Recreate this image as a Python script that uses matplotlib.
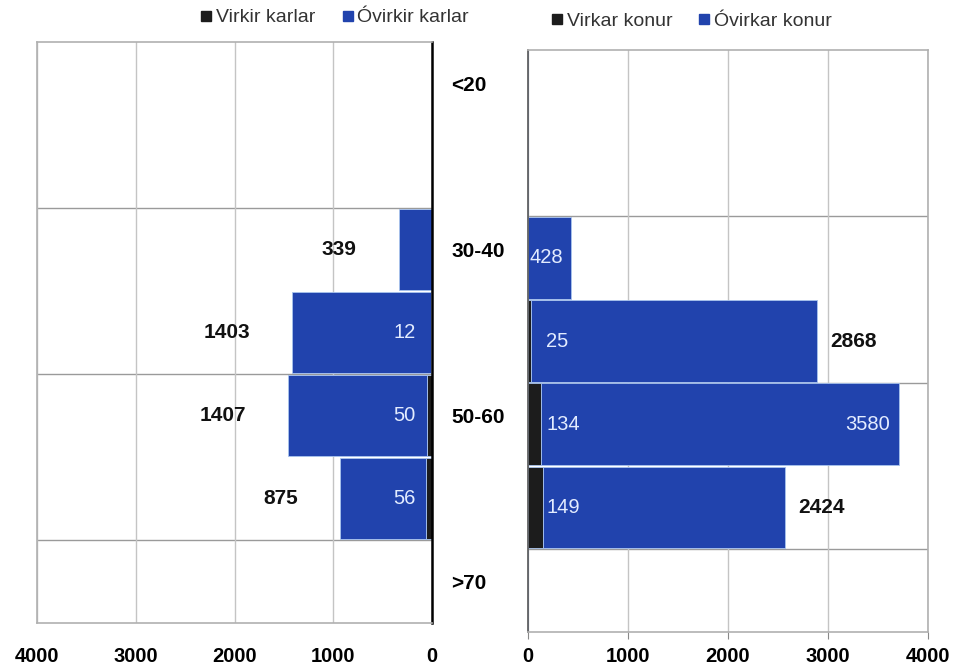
import matplotlib.pyplot as plt
from matplotlib.lines import Line2D

# age groups, top to bottom
categories = ['<20', '20-30', '30-40', '40-50', '50-60', '60-70', '>70']
shown_labels = ['<20', '', '30-40', '', '50-60', '', '>70']

karlar_virkir = [0, 0, 0, 12, 50, 56, 0]
karlar_ovirkir = [0, 0, 339, 1403, 1407, 875, 0]
konur_virkar = [0, 0, 0, 25, 134, 149, 0]
konur_ovirkar = [0, 0, 428, 2868, 3580, 2424, 0]

# where the óvirkar label for women goes
konur_label_pos = ['', '', 'start', 'out', 'in', 'out', '']

ticks = [0, 1000, 2000, 3000, 4000]

BLUE = '#2143ad'
BLACK = '#1c1c1c'
GRID = '#c4c4c4'
LIGHT = '#e3ecff'

plt.rcParams['font.family'] = ['Liberation Sans', 'DejaVu Sans']

fig = plt.figure(figsize=(9.55, 6.67), dpi=100)
ax1 = fig.add_axes([37 / 955, 1 - 623 / 667, 395 / 955, 581 / 667])
ax2 = fig.add_axes([528 / 955, 1 - 632 / 667, 400 / 955, 582 / 667])

y = list(range(len(categories)))


def style_axes(ax):
    ax.set_ylim(len(categories) - 0.5, -0.5)
    ax.set_xticks(ticks)
    ax.set_xlim(0, 4000)
    ax.grid(axis='x', color=GRID, lw=1)
    ax.set_axisbelow(True)
    for b in [1.5, 3.5, 5.5]:
        ax.axhline(b, color='#9a9a9a', lw=1, zorder=0.5)
    for s in ax.spines.values():
        s.set_color('#b0b0b0')
        s.set_linewidth(1.2)
    ax.tick_params(axis='x', labelsize=14.5, length=5, color='#888888', pad=6)
    for t in ax.get_xticklabels():
        t.set_fontweight('bold')


# left panel - karlar
ax1.barh(y, karlar_virkir, height=0.98, color=BLACK, edgecolor='#a9c4ee', lw=0.6)
ax1.barh(y, karlar_ovirkir, left=karlar_virkir, height=0.98, color=BLUE,
         edgecolor='#a9c4ee', lw=0.6)
style_axes(ax1)
ax1.set_xlim(4000, 0)
ax1.spines['right'].set_color('black')
ax1.spines['right'].set_linewidth(1.8)
ax1.tick_params(axis='x', length=0, pad=17)
ax1.yaxis.tick_right()
ax1.set_yticks(y)
ax1.set_yticklabels(shown_labels, fontsize=15, fontweight='bold', ha='left')
ax1.tick_params(axis='y', length=0, pad=14)

for i in y:
    tot = karlar_virkir[i] + karlar_ovirkir[i]
    if karlar_ovirkir[i]:
        ax1.annotate(str(karlar_ovirkir[i]), (tot, i), xytext=(-30, 0),
                     textcoords='offset points', ha='right', va='center',
                     fontsize=15, fontweight='bold', color='#111111')
    if karlar_virkir[i]:
        ax1.annotate(str(karlar_virkir[i]), (0, i), xytext=(-12, 0),
                     textcoords='offset points', ha='right', va='center',
                     fontsize=14.5, color=LIGHT)

# right panel - konur
ax2.barh(y, konur_virkar, height=0.98, color=BLACK, edgecolor='#a9c4ee', lw=0.6)
ax2.barh(y, konur_ovirkar, left=konur_virkar, height=0.98, color=BLUE,
         edgecolor='#a9c4ee', lw=0.6)
style_axes(ax2)
ax2.set_yticks([])
ax2.spines['left'].set_color('#555555')

for i in y:
    tot = konur_virkar[i] + konur_ovirkar[i]
    pos = konur_label_pos[i]
    if pos == 'out':
        ax2.annotate(str(konur_ovirkar[i]), (tot, i), xytext=(9, 0),
                     textcoords='offset points', ha='left', va='center',
                     fontsize=15, fontweight='bold', color='#111111')
    elif pos == 'in':
        ax2.annotate(str(konur_ovirkar[i]), (tot, i), xytext=(-7, 0),
                     textcoords='offset points', ha='right', va='center',
                     fontsize=14.5, color=LIGHT)
    elif pos == 'start':
        ax2.annotate(str(konur_ovirkar[i]), (0, i), xytext=(1, 0),
                     textcoords='offset points', ha='left', va='center',
                     fontsize=14.5, color=LIGHT)
    if konur_virkar[i]:
        ax2.annotate(str(konur_virkar[i]), (0, i), xytext=(13, 0),
                     textcoords='offset points', ha='left', va='center',
                     fontsize=14.5, color=LIGHT)


def legend_handles(names):
    return [Line2D([], [], marker='s', ls='', color=BLACK, markersize=7, label=names[0]),
            Line2D([], [], marker='s', ls='', color=BLUE, markersize=7, label=names[1])]


ax1.legend(handles=legend_handles(['Virkir karlar', 'Óvirkir karlar']),
           loc='center', bbox_to_anchor=(0.755, 1.042), ncol=2, frameon=False,
           fontsize=14, handlelength=0.5, handletextpad=0.25, columnspacing=1.4,
           labelcolor='#333333')
ax2.legend(handles=legend_handles(['Virkar konur', 'Óvirkar konur']),
           loc='center', bbox_to_anchor=(0.41, 1.05), ncol=2, frameon=False,
           fontsize=14, handlelength=0.5, handletextpad=0.25, columnspacing=1.4,
           labelcolor='#333333')

fig.savefig('out.png', dpi=100)
